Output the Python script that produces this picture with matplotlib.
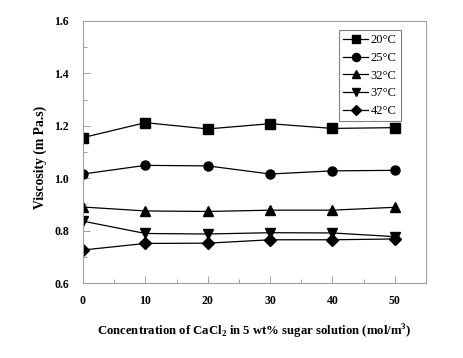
import matplotlib
matplotlib.use("Agg")
import matplotlib.pyplot as plt
from matplotlib.ticker import MultipleLocator

# ===============================
# Data
# ===============================

conc = [0, 10, 20, 30, 40, 50]

visc_20 = [1.155, 1.212, 1.188, 1.208, 1.190, 1.193]
visc_25 = [1.016, 1.049, 1.047, 1.016, 1.028, 1.030]
visc_32 = [0.890, 0.875, 0.873, 0.878, 0.878, 0.889]
visc_37 = [0.836, 0.789, 0.787, 0.792, 0.791, 0.777]
visc_42 = [0.726, 0.751, 0.752, 0.765, 0.765, 0.768]

labels = ["20°C", "25°C", "32°C", "37°C", "42°C"]
markers = ["s", "o", "^", "v", "D"]

plt.rcParams["font.family"] = ["Liberation Serif", "DejaVu Serif"]
plt.rcParams["mathtext.fontset"] = "custom"
plt.rcParams["mathtext.rm"] = "Liberation Serif:bold"
plt.rcParams["mathtext.bf"] = "Liberation Serif:bold"

# ===============================
# Plot
# ===============================

fig = plt.figure(figsize=(4.63, 3.58), dpi=100)
ax = fig.add_axes([83 / 463, 1 - 283 / 358, (426 - 83) / 463, (283 - 21) / 358])

series = [visc_20, visc_25, visc_32, visc_37, visc_42]
for vals, lab, m in zip(series, labels, markers):
    ms = 6.5 if m != "D" else 6
    ax.plot(conc, vals, color="black", lw=0.9, marker=m, ms=ms,
            mfc="black", mec="black", label=lab)

ax.set_xlim(0, 55)
ax.set_ylim(0.6, 1.6)
ax.xaxis.set_minor_locator(MultipleLocator(5))
ax.yaxis.set_minor_locator(MultipleLocator(0.1))
ax.set_xticks([0, 10, 20, 30, 40, 50])
yt = [0.6, 0.8, 1.0, 1.2, 1.4, 1.6]
ax.set_yticks(yt)
ax.set_yticklabels([f"{v:.1f}" for v in yt])

for sp in ax.spines.values():
    sp.set_color("#a0a0a0")
    sp.set_linewidth(0.8)

ax.tick_params(which="major", direction="in", length=5, width=0.7, color="#a0a0a0",
               labelsize=8.5, pad=9)
ax.tick_params(which="minor", direction="in", length=3, width=0.7, color="#a0a0a0")
ax.tick_params(axis="y", pad=10)
for t in ax.get_xticklabels() + ax.get_yticklabels():
    t.set_fontweight("bold")

ax.set_ylabel("Viscosity (m Pa.s)", fontsize=9.8, fontweight="bold")
ax.yaxis.set_label_coords(-0.105, 0.48)
ax.set_xlabel("Concentration of CaCl$_2$ in 5 wt% sugar solution (mol/m$^3$)",
              fontsize=9.2, fontweight="bold", labelpad=11)

leg = ax.legend(loc="upper right", bbox_to_anchor=(0.935, 0.975), fontsize=9,
                frameon=True, fancybox=False, handlelength=2.0, handletextpad=0.2,
                borderpad=0.35, labelspacing=0.45, markerscale=0.9, borderaxespad=0.2)
leg.get_frame().set_edgecolor("#606060")
leg.get_frame().set_linewidth(0.8)

fig.savefig("out.png", dpi=100)
